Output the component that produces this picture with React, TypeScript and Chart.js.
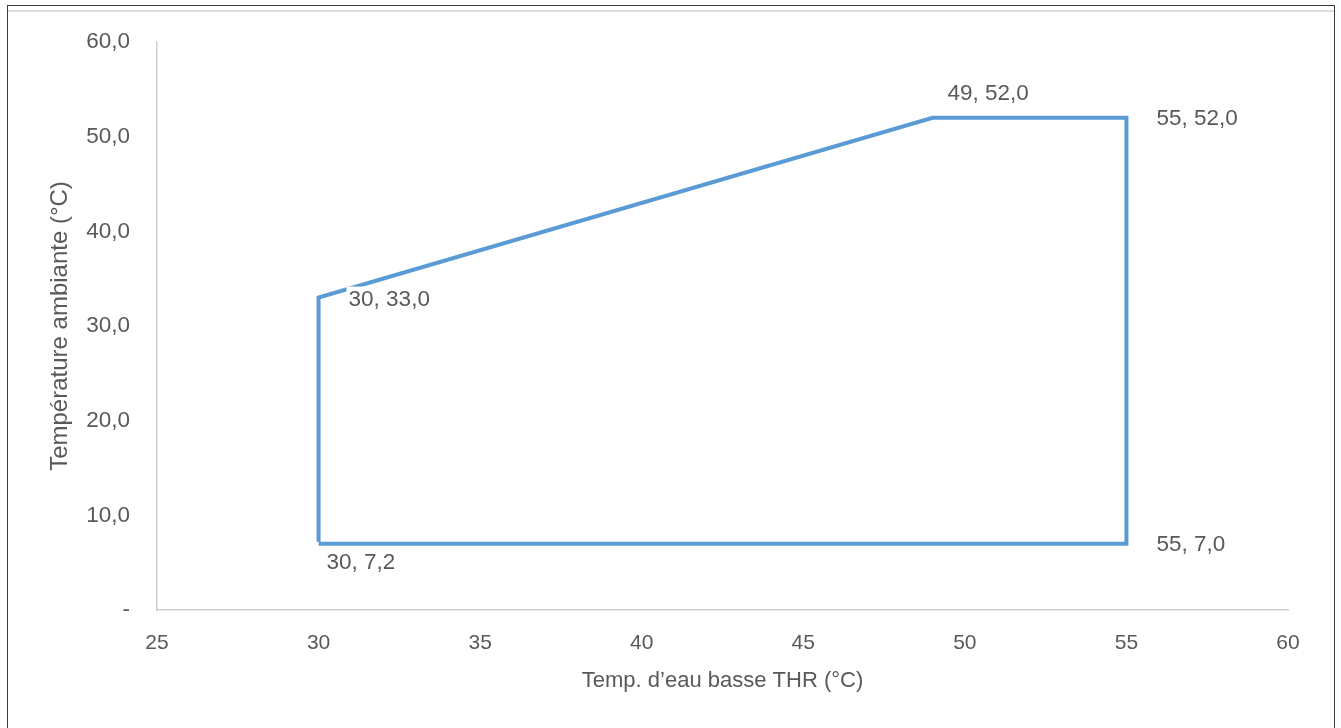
import React, { useEffect, useRef } from "react";
import { Chart, registerables } from "chart.js";

Chart.register(...registerables);

// ---- data ----
const xValues: number[] = [30, 30, 49, 55, 55, 30];
const yValues: number[] = [7.2, 33.0, 52.0, 52.0, 7.0, 7.0];
const labelledCount = 5; // the closing point is not labelled
const xTitle = "Temp. d’eau basse THR (°C)";
const yTitle = "Température ambiante (°C)";
const xMin = 25, xMax = 60, xStep = 5;
const yMin = 0, yMax = 60, yStep = 10;

// label placement offsets (px) relative to each point: [dx, dy, whiteBackground]
const labelOffsets: [number, number, boolean][] = [
  [8, 21, false],
  [30, 2, true],
  [15, -24, false],
  [30, 1, false],
  [30, 1, false],
];

const FONT = "'Liberation Sans', Arial, sans-serif";
const GREY = "#595959";

const fmtY = (v: number) => v.toFixed(1).replace(".", ",");

export default function App() {
  const ref = useRef<HTMLCanvasElement | null>(null);

  useEffect(() => {
    if (!ref.current) return;
    Chart.defaults.font.family = FONT;
    const labelPlugin = {
      id: "pointLabels",
      afterDatasetsDraw(chart: any) {
        const ctx = chart.ctx;
        const meta = chart.getDatasetMeta(0);
        ctx.save();
        ctx.font = `22.5px ${FONT}`;
        ctx.textAlign = "left";
        ctx.textBaseline = "middle";
        for (let i = 0; i < labelledCount; i++) {
          const el = meta.data[i];
          const [dx, dy, bg] = labelOffsets[i];
          const text = `${xValues[i]}, ${fmtY(yValues[i])}`;
          const tx = el.x + dx;
          const ty = el.y + dy;
          if (bg) {
            const w = ctx.measureText(text).width;
            ctx.fillStyle = "#ffffff";
            ctx.fillRect(tx - 2, ty - 13, w + 4, 26);
          }
          ctx.fillStyle = GREY;
          ctx.fillText(text, tx, ty);
        }
        ctx.restore();
      },
    };

    const chart = new Chart(ref.current, {
      type: "scatter",
      data: {
        datasets: [
          {
            data: xValues.map((x, i) => ({ x, y: yValues[i] })),
            showLine: true,
            borderColor: "#5B9BD5",
            borderWidth: 4,
            borderJoinStyle: "miter",
            pointRadius: 0,
            pointHoverRadius: 0,
            fill: false,
          } as any,
        ],
      },
      options: {
        animation: false,
        responsive: false,
        events: [],
        layout: { padding: { left: 0, top: 42, right: 53, bottom: 0 } },
        plugins: {
          legend: { display: false },
          tooltip: { enabled: false },
        },
        scales: {
          x: {
            type: "linear",
            min: xMin,
            max: xMax,
            ticks: { stepSize: xStep, color: GREY, font: { size: 21 }, padding: 21 },
            grid: { display: false, drawTicks: false },
            border: { display: true, color: "#d0d0d0", width: 1.5 },
            title: {
              display: true,
              text: xTitle,
              color: GREY,
              font: { size: 22 },
              padding: { top: 0, bottom: 34 },
            },
            afterFit: (s: any) => {
              s.height = 118;
            },
          },
          y: {
            type: "linear",
            min: yMin,
            max: yMax,
            ticks: {
              stepSize: yStep,
              color: GREY,
              font: { size: 22.5 },
              padding: 27,
              callback: (v: any) => (Number(v) === 0 ? "-" : fmtY(Number(v))),
            },
            grid: { display: false, drawTicks: false },
            border: { display: true, color: "#d0d0d0", width: 1.5 },
            title: {
              display: true,
              text: yTitle,
              color: GREY,
              font: { size: 24 },
              padding: { top: 46, bottom: 0 },
            },
            afterFit: (s: any) => {
              s.width = 157;
            },
          },
        },
      } as any,
      plugins: [labelPlugin],
    });
    return () => chart.destroy();
  }, []);

  return (
    <div>
      <canvas
        ref={ref}
        width={1341}
        height={728}
        style={{ position: "absolute", left: 0, top: 0, width: 1341, height: 728 }}
      />
      <div
        style={{
          position: "absolute",
          left: 7,
          top: 5,
          width: 1328,
          height: 723,
          boxSizing: "border-box",
          borderLeft: "1px solid #3a3a3a",
          borderTop: "1px solid #3a3a3a",
          borderRight: "1px solid #3a3a3a",
          pointerEvents: "none",
        }}
      />
      <div
        style={{
          position: "absolute",
          left: 8,
          top: 10,
          width: 1326,
          height: 2,
          background: "#dedede",
          pointerEvents: "none",
        }}
      />
    </div>
  );
}
